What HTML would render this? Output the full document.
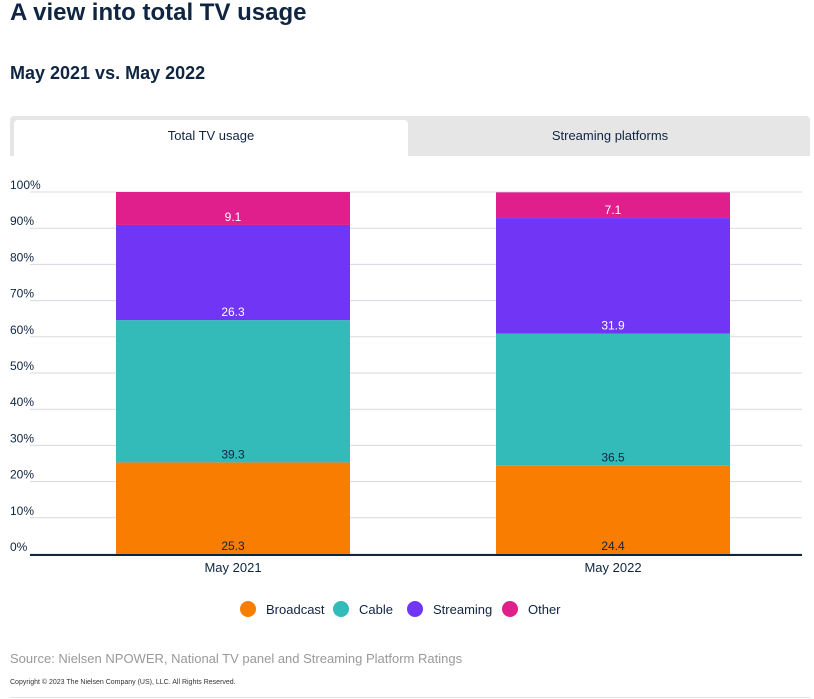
<!DOCTYPE html>
<html><head><meta charset="utf-8"><style>
body{margin:0;width:814px;height:699px;background:#fff;font-family:"Liberation Sans",sans-serif;color:#0f2541;position:relative;overflow:hidden}
.t{position:absolute;white-space:nowrap}
</style></head><body>
<div class="t" style="left:10px;top:-1px;font-size:24px;font-weight:bold">A view into total TV usage</div>
<div class="t" style="left:10px;top:63px;font-size:18px;font-weight:bold">May 2021 vs. May 2022</div>
<div style="position:absolute;left:10px;top:116px;width:800px;height:40px;background:#e6e6e6;border-radius:4px 4px 0 0"></div>
<div class="t" style="left:14px;top:120px;width:394px;height:36px;background:#fff;border-radius:4px 4px 0 0;text-align:center;line-height:32px;font-size:13px">Total TV usage</div>
<div class="t" style="left:410px;top:120px;width:400px;height:36px;text-align:center;line-height:32px;font-size:13px">Streaming platforms</div>
<svg id="c" width="814" height="699" style="position:absolute;left:0;top:0"></svg>
<div class="t" style="left:10px;top:651px;font-size:13px;color:#999">Source: Nielsen NPOWER, National TV panel and Streaming Platform Ratings</div>
<div class="t" style="left:10px;top:679px;font-size:7px;color:#333">Copyright © 2023 The Nielsen Company (US), LLC. All Rights Reserved.</div>
<div style="position:absolute;left:10px;top:697px;width:800px;height:1px;background:#e5e5e5"></div>
<script>
const categories=["May 2021","May 2022"];
const seriesNames=["Broadcast","Cable","Streaming","Other"];
const broadcast=[25.3,24.4];
const cable=[39.3,36.5];
const streaming=[26.3,31.9];
const other=[9.1,7.1];
const yTicks=[0,10,20,30,40,50,60,70,80,90,100];
const colors=["#f97d00","#32bbb9","#7135f5","#e01f8c"];
const labelColors=["#0f2541","#0f2541","#fff","#fff"];
const series=[broadcast,cable,streaming,other];
const svg=document.getElementById('c');const NS="http://www.w3.org/2000/svg";
const x0=30,x1=802,yTop=192,yBot=554;
const y=v=>yBot-(v/100)*(yBot-yTop);
const bw=234;const xc=i=>233+i*380;
function el(t,a,p){const e=document.createElementNS(NS,t);for(const k in a)e.setAttribute(k,a[k]);(p||svg).appendChild(e);return e;}
yTicks.forEach(t=>{
  const g=el('line',{x1:x0,x2:x1,y1:y(t),y2:y(t),stroke:'#d5dae0','stroke-width':1});
  
  
  const l=el('text',{x:10,y:y(t)-3,'font-size':12,fill:'#0f2541','font-family':'Liberation Sans'});l.textContent=t+'%';
  
  
});
categories.forEach((c,i)=>{
  let cum=0;
  series.forEach((s,k)=>{
    const v=s[i];
    const r=el('rect',{x:xc(i)-bw/2,y:y(cum+v),width:bw,height:y(cum)-y(cum+v),fill:colors[k]});
    
    
    const t=el('text',{x:xc(i),y:y(cum)-4,'text-anchor':'middle','font-size':12,fill:labelColors[k],'font-family':'Liberation Sans'});t.textContent=v;
    
    
    cum+=v;
  });
  const xl=el('text',{x:xc(i),y:572,'text-anchor':'middle','font-size':13,fill:'#0f2541','font-family':'Liberation Sans'});xl.textContent=c;
  
  
});
const ax=el('line',{x1:x0,x2:x1,y1:yBot+1,y2:yBot+1,stroke:'#0f2541','stroke-width':2});


const lx=[248,341,415,510];
seriesNames.forEach((n,k)=>{
  const c=el('circle',{cx:lx[k],cy:609,r:8,fill:colors[k]});
  
  
  const t=el('text',{x:lx[k]+18,y:614,'font-size':13,fill:'#0f2541','font-family':'Liberation Sans'});t.textContent=n;
  
  
});
</script>
</body></html>
